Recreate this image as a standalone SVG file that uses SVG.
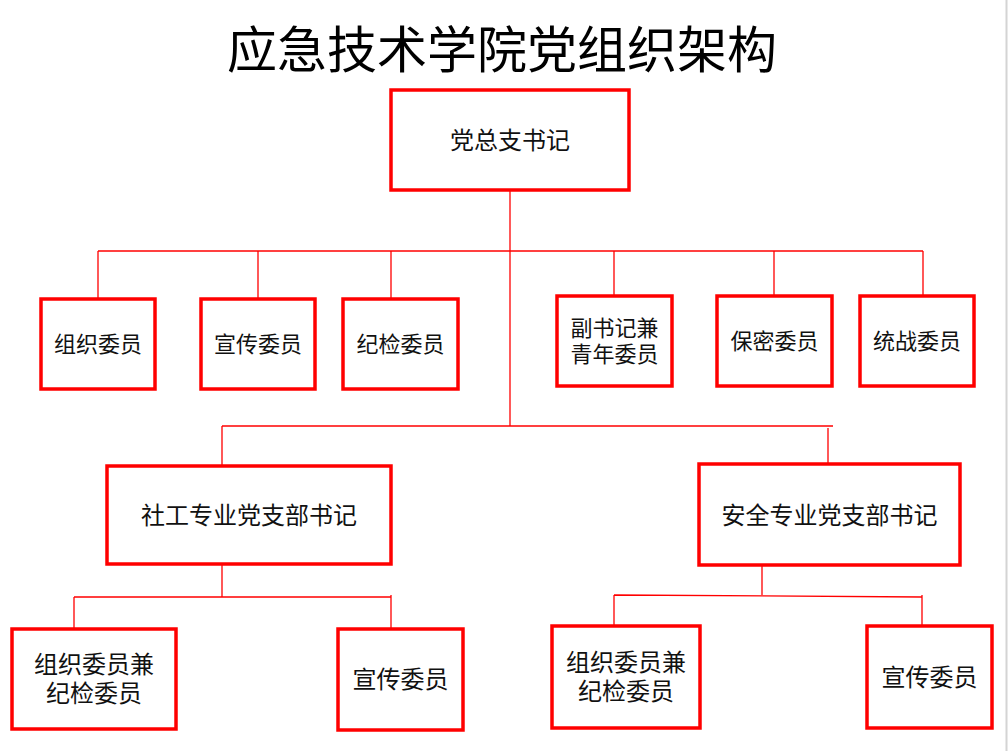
<svg xmlns="http://www.w3.org/2000/svg" width="1008" height="751" viewBox="0 0 1008 751">
<style>
.box{fill:#ffffff;stroke:#ff0000;stroke-width:3.5}
.ln{fill:none;stroke:#ff0000;stroke-width:1.3}
text{font-family:"Noto Sans CJK SC","Noto Sans CJK JP",sans-serif;fill:#111;text-anchor:middle}
.t24{font-size:24px}
.t22{font-size:22px}
.title{font-size:50px;fill:#000}
</style>
<rect x="0" y="0" width="1008" height="751" fill="#ffffff"/>
<line x1="1006.5" y1="0" x2="1006.5" y2="751" stroke="#d4d4d4" stroke-width="2"/>
<text class="title" x="502" y="68">应急技术学院党组织架构</text>
<g id="connectors">
<path class="ln" d="M510,190 V426"/>
<path class="ln" d="M98,251 H923"/>
<path class="ln" d="M98,251 V298 M258,251 V298 M391,251 V298 M614,251 V296 M774,251 V296 M923,251 V299"/>
<path class="ln" d="M222,426 H833"/>
<path class="ln" d="M222,426 V465 M828,428 V464"/>
<path class="ln" d="M222,564 V597 M74,597 H391 M74,597 V629 M391,595 V629"/>
<path class="ln" d="M762,565 V595 M614,595 L922,597 M614,595 V626 M922,595 V626"/>
</g>
<g id="n0"><rect class="box" x="391" y="90" width="238" height="100"/><text class="t24" x="510" y="149">党总支书记</text></g>
<g id="n1"><rect class="box" x="41" y="299" width="114" height="90"/><text class="t22" x="98" y="352">组织委员</text></g>
<g id="n2"><rect class="box" x="201" y="299" width="114" height="90"/><text class="t22" x="258" y="352">宣传委员</text></g>
<g id="n3"><rect class="box" x="343" y="299" width="115" height="90"/><text class="t22" x="400.5" y="352">纪检委员</text></g>
<g id="n4"><rect class="box" x="557" y="296" width="115" height="90"/><text class="t22" x="614.5" y="336">副书记兼<tspan x="614.5" dy="26">青年委员</tspan></text></g>
<g id="n5"><rect class="box" x="717" y="296" width="115" height="90"/><text class="t22" x="774.5" y="349">保密委员</text></g>
<g id="n6"><rect class="box" x="860" y="296" width="114" height="90"/><text class="t22" x="917" y="349">统战委员</text></g>
<g id="n7"><rect class="box" x="107" y="466" width="284" height="98"/><text class="t24" x="249" y="524">社工专业党支部书记</text></g>
<g id="n8"><rect class="box" x="699" y="464" width="261" height="101"/><text class="t24" x="829.5" y="524">安全专业党支部书记</text></g>
<g id="n9"><rect class="box" x="12" y="629" width="164" height="100"/><text class="t24" x="94" y="673">组织委员兼<tspan x="94" dy="29">纪检委员</tspan></text></g>
<g id="n10"><rect class="box" x="338" y="629" width="125" height="101"/><text class="t24" x="400.5" y="688">宣传委员</text></g>
<g id="n11"><rect class="box" x="552" y="626" width="148" height="102"/><text class="t24" x="626" y="671">组织委员兼<tspan x="626" dy="29">纪检委员</tspan></text></g>
<g id="n12"><rect class="box" x="867" y="626" width="125" height="102"/><text class="t24" x="929.5" y="686">宣传委员</text></g>
</svg>
